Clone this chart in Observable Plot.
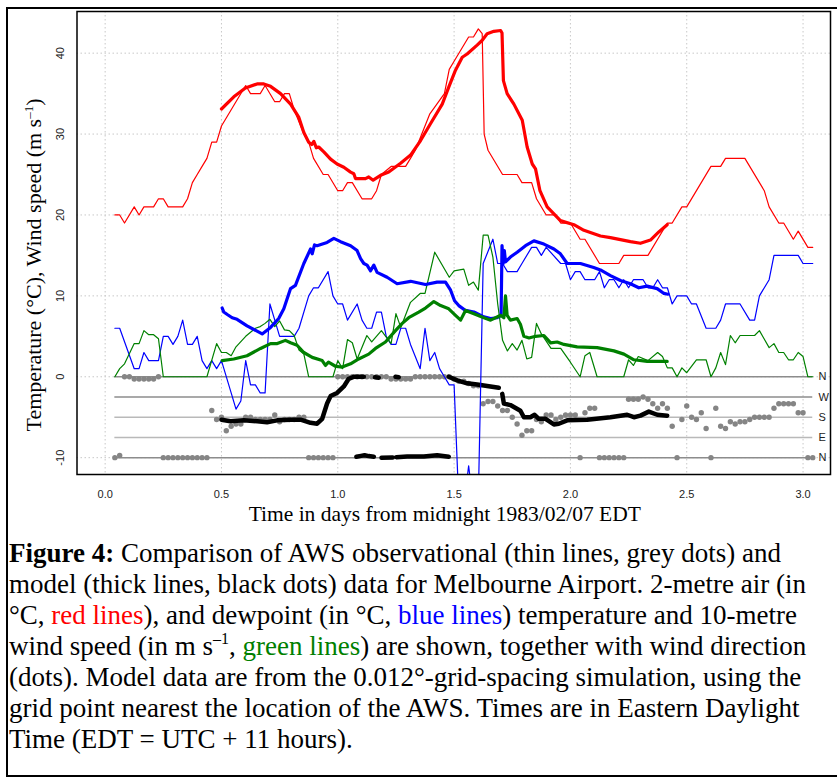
<!DOCTYPE html>
<html><head><meta charset="utf-8">
<script src="https://cdn.jsdelivr.net/npm/d3@7"></script>
<script src="https://cdn.jsdelivr.net/npm/@observablehq/plot@0.6"></script>
<style>
body{margin:0;background:#fff;}
#fig{position:relative;width:837px;height:780px;overflow:hidden;background:#fff;}
#border{position:absolute;left:6px;top:7px;width:840px;height:770px;border:2px solid #000;border-right:none;box-sizing:border-box;}
#chart{position:absolute;left:0;top:0;}
#caption{position:absolute;left:9px;top:538px;font-family:"Liberation Serif","Times New Roman",serif;font-size:27px;line-height:31px;white-space:nowrap;color:#000;}
#caption sup{font-size:16px;line-height:0;vertical-align:11px;}
</style></head>
<body>
<div id="fig">
<div id="border"></div>
<div id="chart"></div>
<div id="caption">
<b>Figure 4:</b> Comparison of AWS observational (thin lines, grey dots) and<br>
model (thick lines, black dots) data for Melbourne Airport. 2-metre air (in<br>
°C, <span style="color:#ff0000">red lines</span>), and dewpoint (in °C, <span style="color:#0000ff">blue lines</span>) temperature and 10-metre<br>
wind speed (in m s<sup>–1</sup>, <span style="color:#008000">green lines</span>) are shown, together with wind direction<br>
(dots). Model data are from the 0.012°-grid-spacing simulation, using the<br>
grid point nearest the location of the AWS. Times are in Eastern Daylight<br>
Time (EDT = UTC + 11 hours).
</div>
</div>
<script>
// ---------- axes ----------
const xTicks = [0, 0.5, 1, 1.5, 2, 2.5, 3];
const yTicks = [-10, 0, 10, 20, 30, 40];
const dirLabels = ["N", "W", "S", "E", "N"];
const dirDegrees = [360, 270, 180, 90, 0];

// ---------- AWS observations (thin lines): [days, value] ----------
const obsAirTemp = [[0.0417,20],[0.0625,20],[0.0833,19],[0.125,21],[0.1458,20],[0.1667,21],[0.2083,21],[0.2292,22],[0.25,22],[0.2708,21],[0.3333,21],[0.3542,22],[0.375,24],[0.3958,25],[0.4167,26],[0.4375,27],[0.4583,29],[0.4792,29],[0.5,31],[0.6042,36],[0.625,35],[0.6667,35],[0.6875,36],[0.7292,34],[0.75,34],[0.7708,35],[0.7917,35],[0.8125,33],[0.8542,30],[0.875,29],[0.8958,27],[0.9375,25],[0.9583,25],[1.0,23],[1.0208,23],[1.0417,24],[1.0625,24],[1.1042,22],[1.1458,22],[1.1667,23],[1.1875,25],[1.2292,26],[1.2917,26],[1.3125,27],[1.3333,28],[1.3958,32.5],[1.4583,35],[1.4792,38],[1.5,39],[1.5625,42],[1.5833,42],[1.6042,43],[1.6208,42.4],[1.6292,30],[1.6458,28],[1.7083,25],[1.7708,25],[1.7917,24],[1.8333,24],[1.8542,22],[1.8958,20],[1.9375,20],[1.9583,19],[2.0,19],[2.0417,17],[2.0625,17],[2.125,14],[2.2083,14],[2.2292,15],[2.3333,15],[2.4167,19],[2.4375,19],[2.4792,21],[2.5,21],[2.6042,26],[2.6458,26],[2.6667,27],[2.75,27],[2.8333,23],[2.8542,21],[2.8958,19],[2.9167,19],[2.9583,17],[2.9792,18],[3.0208,16],[3.0417,16]];

const obsDewpoint = [[0.0417,6],[0.0625,6],[0.125,1],[0.1458,1],[0.1667,3],[0.1875,2],[0.2292,2],[0.25,5],[0.2708,5],[0.2917,4],[0.3125,5],[0.3333,7],[0.3542,4],[0.375,4],[0.3958,5],[0.4167,2],[0.4375,1],[0.4583,2],[0.4792,1],[0.5,2],[0.5417,-2],[0.5625,-4],[0.5833,-3],[0.6042,2],[0.625,-1],[0.6458,-1],[0.6667,-2],[0.6875,-2],[0.7083,9],[0.7292,7],[0.75,5],[0.8125,5],[0.8333,6],[0.875,10],[0.8958,11],[0.9167,11],[0.9583,13],[0.9792,10],[1.0,9],[1.0208,9],[1.0417,7],[1.0833,9],[1.1042,7],[1.125,6],[1.1458,6],[1.1667,8],[1.1875,8],[1.2083,5],[1.2292,4],[1.25,4],[1.2708,6],[1.2917,6],[1.3125,4],[1.3542,1],[1.375,6],[1.3958,2],[1.4167,3],[1.4375,1],[1.4583,0],[1.4792,-1],[1.5,-1],[1.5208,-16],[1.5417,-16],[1.5625,-11],[1.5833,-16],[1.6042,-15],[1.625,14],[1.6667,17],[1.6875,14],[1.7083,14],[1.7292,13],[1.7708,13],[1.7917,14],[1.8333,16],[1.8542,16],[1.875,15],[1.8958,16],[1.9583,14],[1.9792,14],[2.0,12],[2.0208,13],[2.0417,13],[2.0625,12],[2.1042,12],[2.125,13],[2.1458,11],[2.1667,12],[2.1875,12],[2.2083,11],[2.2292,12],[2.25,11],[2.2708,12],[2.3125,12],[2.3333,11],[2.3542,11],[2.375,12],[2.3958,11],[2.4167,11],[2.4375,9],[2.4583,10],[2.5,10],[2.5208,9],[2.5417,9],[2.5833,6],[2.625,6],[2.6458,7],[2.6667,9],[2.7292,9],[2.7708,7],[2.7917,7],[2.8125,10],[2.8542,12],[2.875,15],[2.9792,15],[3.0,14],[3.0417,14]];

const obsWindSpeed = [[0.0417,0],[0.0625,1],[0.0833,1.6],[0.125,4.1],[0.1458,4.1],[0.1667,5.7],[0.1875,5.2],[0.2083,5.2],[0.2292,4.7],[0.25,0],[0.4375,0],[0.4792,4.1],[0.5,3.0],[0.5208,3.0],[0.5417,2.6],[0.5625,3.7],[0.6042,5.0],[0.625,5.5],[0.6458,6.0],[0.6667,6.2],[0.6875,6.6],[0.7083,7.1],[0.7292,6.2],[0.75,6.9],[0.7708,5.8],[0.7917,5.7],[0.8125,5.1],[0.8333,3.3],[0.8542,2.8],[0.875,0],[0.9792,0],[1.0,2.0],[1.0208,1.0],[1.0417,4.6],[1.0625,4.2],[1.0833,2.2],[1.125,5.1],[1.1458,4.3],[1.1875,5.7],[1.2292,4.1],[1.25,7.8],[1.2708,6.1],[1.3125,9.2],[1.3542,10.3],[1.375,10.3],[1.4167,15.4],[1.4792,12.3],[1.5,13.1],[1.5417,13.3],[1.5625,11.3],[1.5833,11.7],[1.6042,10.7],[1.625,17.5],[1.6458,17.5],[1.6667,14.8],[1.6875,9.0],[1.7083,4.5],[1.7292,3.2],[1.75,4.1],[1.7708,3.3],[1.7917,4.5],[1.8125,2.2],[1.8333,2.4],[1.8542,6.6],[1.875,5.3],[1.9167,3.5],[1.9583,3.5],[2.0,1.8],[2.0417,0],[2.0625,2.6],[2.0833,3.0],[2.1146,0],[2.2292,0],[2.25,2.1],[2.2708,1.4],[2.2917,2.5],[2.3333,2.0],[2.375,3.0],[2.3958,2.5],[2.4167,1.1],[2.4375,1.1],[2.4583,0],[2.4792,1.1],[2.5,0.5],[2.5417,2.1],[2.5833,2.1],[2.6042,0],[2.625,1.1],[2.6458,3.0],[2.6667,1.5],[2.6875,5.1],[2.7083,4.2],[2.7292,5.1],[2.7917,5.1],[2.8125,5.7],[2.8542,3.6],[2.875,4.1],[2.8958,3.0],[2.9167,3.0],[2.9375,2.1],[2.9583,2.1],[2.9792,3.0],[3.0,2.5],[3.0208,0],[3.0417,0]];

// half-hourly observed wind direction (degrees), first report at 01:00 (day 2/48)
const obsDirFirstSlot = 2;
const obsDirDeg = [0,10,360,360,350,350,350,350,350,360,
  0,0,0,0,0,0,0,0,0,0,
  210,170,180,120,140,150,150,180,180,170,170,170,170,190,160,170,170,170,180,180,
  0,0,0,0,0,0,
  360,360,360,360,360,360,360,360,360,360,360,350,350,350,350,350,360,360,360,360,360,360,360,360,
  350,340,340,330,320,320,
  240,250,250,230,210,210,180,150,100,120,120,170,160,190,190,170,180,190,190,190,0,200,220,220,
  0,0,0,0,0,0,
  260,260,260,270,260,240,220,240,220,140,0,170,230,180,170,200,130,0,220,140,130,160,150,160,160,170,180,180,180,180,220,240,240,240,240,200,200,0,0];

// ---------- model (thick lines, black dots) ----------
const modelAirTemp = [[0.5,33.1],[0.553,34.6],[0.603,35.7],[0.653,36.2],[0.682,36.2],[0.711,35.9],[0.754,35.0],[0.797,33.7],[0.832,32.1],[0.854,30.2],[0.875,29.0],[0.888,28.7],[0.897,29.1],[0.908,28.3],[0.918,28.4],[0.94,27.8],[0.969,26.9],[0.997,26.3],[1.026,25.9],[1.055,25.3],[1.069,25.1],[1.076,24.5],[1.119,24.5],[1.133,24.7],[1.152,24.3],[1.184,24.9],[1.219,25.3],[1.27,26.4],[1.313,27.4],[1.356,29.2],[1.399,31.3],[1.449,33.7],[1.477,35.8],[1.506,37.9],[1.535,39.5],[1.556,39.9],[1.599,41.0],[1.621,41.6],[1.642,42.4],[1.671,42.7],[1.7,42.8],[1.706,42.5],[1.712,36.6],[1.728,35.0],[1.757,33.7],[1.793,31.7],[1.814,28.4],[1.836,26.3],[1.85,25.7],[1.869,23.0],[1.9,21.0],[1.957,19.3],[2.015,18.8],[2.058,18.1],[2.129,17.4],[2.172,17.2],[2.258,16.7],[2.301,16.5],[2.344,16.9],[2.38,17.9],[2.416,18.8]];

const modelDewpoint = [[0.503,8.5],[0.51,8.0],[0.525,7.7],[0.546,7.3],[0.567,7.1],[0.61,6.3],[0.675,5.3],[0.711,6.1],[0.746,7.2],[0.768,8.4],[0.797,10.9],[0.818,11.3],[0.854,14.0],[0.883,15.8],[0.89,15.2],[0.9,16.3],[0.911,16.2],[0.954,16.6],[0.983,17.1],[1.012,16.7],[1.055,16.2],[1.083,15.6],[1.098,14.6],[1.112,14.0],[1.126,13.8],[1.141,13.1],[1.155,13.8],[1.169,12.9],[1.212,12.3],[1.255,11.5],[1.313,11.8],[1.377,11.4],[1.427,11.7],[1.463,11.7],[1.485,10.7],[1.502,9.4],[1.52,8.8],[1.549,8.2],[1.585,8.0],[1.628,7.4],[1.657,7.2],[1.685,7.3],[1.702,7.6],[1.706,16.2],[1.711,14.0],[1.716,15.6],[1.721,14.2],[1.742,14.8],[1.771,15.4],[1.807,16.2],[1.843,16.8],[1.886,16.4],[1.929,15.8],[1.957,15.2],[1.986,14.0],[2.043,14.0],[2.1,13.5],[2.129,13.2],[2.172,12.5],[2.215,11.9],[2.258,11.5],[2.294,11.0],[2.33,11.2],[2.373,10.9],[2.402,10.3],[2.419,10.2]];

const modelWindSpeed = [[0.503,2.0],[0.553,2.2],[0.61,2.6],[0.668,3.5],[0.711,4.1],[0.74,4.1],[0.775,4.5],[0.797,4.2],[0.825,3.9],[0.854,3.0],[0.89,2.4],[0.933,2.0],[0.947,1.4],[0.96,1.8],[0.99,1.3],[1.019,1.2],[1.055,1.6],[1.09,2.2],[1.133,2.8],[1.162,3.5],[1.205,4.3],[1.248,5.7],[1.277,6.6],[1.305,7.3],[1.348,8.0],[1.377,8.5],[1.413,9.3],[1.442,8.8],[1.477,8.4],[1.506,7.6],[1.528,7.0],[1.549,8.2],[1.585,7.8],[1.628,7.3],[1.657,7.0],[1.7,7.6],[1.714,7.3],[1.721,10.0],[1.728,7.6],[1.742,7.0],[1.771,7.2],[1.785,6.5],[1.8,5.0],[1.822,4.8],[1.85,5.0],[1.886,5.1],[1.915,4.2],[1.943,4.3],[1.972,4.0],[2.029,3.7],[2.115,3.6],[2.187,3.2],[2.23,2.8],[2.273,2.1],[2.33,1.9],[2.416,1.9]];

// model wind direction (degrees); null marks a gap / wrap through north
const modelDirDeg = [[0.5,169],[0.539,162],[0.596,166],[0.654,162],[0.696,158],[0.739,166],[0.797,169],[0.84,169],[0.883,155],[0.911,151],[0.933,173],[0.954,241],[0.969,274],[0.997,288],[1.026,317],[1.047,351],[1.069,360],[1.112,360],[1.113,null],
  [1.16,358],[1.176,356],[1.177,null],[1.248,360],[1.262,358],[1.263,null],
  [1.08,4],[1.1,8],[1.115,11],[1.133,7],[1.155,4],[1.156,null],[1.188,0],[1.236,1],[1.237,null],[1.252,2],[1.298,5],[1.37,5],[1.427,11],[1.477,4],[1.478,null],
  [1.477,360],[1.513,344],[1.556,331],[1.599,326],[1.642,319],[1.692,311],[1.698,null],[1.707,284],[1.714,241],[1.742,234],[1.785,209],[1.8,180],[1.828,180],[1.846,191],[1.864,173],[1.893,173],[1.929,148],[1.95,151],[1.986,166],[2.072,169],[2.172,180],[2.244,191],[2.273,180],[2.301,187],[2.337,205],[2.373,191],[2.416,187]];

// ---------- build ----------
const dirY = deg => (deg - 360) / 36;   // N(360)=0, W=-2.5, S=-5, E=-7.5, N(0)=-10
const obsDir = obsDirDeg.map((d, i) => ({t: (obsDirFirstSlot + i) / 48, y: dirY(d)}));
const dirLevels = dirLabels.map((l, i) => ({label: l, y: dirY(dirDegrees[i])}));
const obsStart = obsDir[0].t, obsEnd = obsDir[obsDir.length - 1].t;
const modelDir = modelDirDeg.map(([t, d]) => ({t, y: d == null ? NaN : dirY(d)}));

const serif = "Liberation Serif, Times New Roman, serif";
const thin = 1.2, thick = 3.2;
const line = (data, stroke, w) => Plot.line(data, {x: d => d[0], y: d => d[1], stroke, strokeWidth: w, clip: true, strokeLinejoin: "round"});

const plot = Plot.plot({
  width: 837, height: 530,
  marginLeft: 76.5, marginRight: 7, marginTop: 11, marginBottom: 56,
  x: {domain: [-0.121, 3.118], axis: null, label: null},
  y: {domain: [-12.08, 45.15], axis: null, label: null},
  style: {fontFamily: "Liberation Sans, Arial, sans-serif", fontSize: "11px", background: "transparent", overflow: "visible"},
  marks: [
    Plot.gridX(xTicks, {stroke: "#c8c8c8", strokeOpacity: 1, strokeDasharray: "1.5,2.5"}),
    Plot.gridY(yTicks, {stroke: "#c8c8c8", strokeOpacity: 1, strokeDasharray: "1.5,2.5"}),
    Plot.ruleY(dirLevels, {y: "y", x1: obsStart, x2: obsEnd, stroke: d => (d.label === "S" || d.label === "E") ? "#b9b9b9" : "#8c8c8c", strokeWidth: 1.5}),
    Plot.dot(obsDir, {x: "t", y: "y", r: 2.7, fill: "#858585", stroke: "none"}),
    Plot.line(modelDir, {x: "t", y: "y", stroke: "black", strokeWidth: 4.5}),
    line(obsAirTemp, "#ff0000", thin),
    line(obsDewpoint, "#0000ff", thin),
    line(obsWindSpeed, "#008000", thin),
    line(modelAirTemp, "#ff0000", thick),
    line(modelDewpoint, "#0000ff", thick),
    line(modelWindSpeed, "#008000", thick),
    Plot.text(dirLevels, {y: "y", text: "label", frameAnchor: "right", dx: -12, textAnchor: "start", fill: "#222", fontSize: 11}),
    Plot.axisX(xTicks, {tickSize: 0, tickPadding: 16, tickFormat: d3.format(".1f"), fill: "#222", fontSize: 11, label: null}),
    Plot.text(yTicks, {y: d => d, text: d => String(d), frameAnchor: "left", dx: -16.5, rotate: -90, textAnchor: "middle", lineAnchor: "middle", fill: "#222", fontSize: 11}),
    Plot.frame({stroke: "black", strokeWidth: 1.5}),
    Plot.text(["Time in days from midnight 1983/02/07 EDT"], {frameAnchor: "bottom", dx: -9, dy: 40, lineAnchor: "middle", fontFamily: serif, fontSize: 21.5, fill: "black"}),
    Plot.text(["Temperature (°C), Wind speed (m s-1)"], {frameAnchor: "left", dx: -43, dy: 22, rotate: -90, textAnchor: "middle", lineAnchor: "middle", fontFamily: serif, fontSize: 22, fill: "black"})
  ]
});
document.getElementById("chart").appendChild(plot);

// superscript for the units in the y label
for (const t of plot.querySelectorAll("text")) {
  if (t.textContent === "Temperature (°C), Wind speed (m s-1)") {
    t.textContent = "";
    const ns = "http://www.w3.org/2000/svg";
    const a = document.createElementNS(ns, "tspan"); a.textContent = "Temperature (°C), Wind speed (m s"; t.appendChild(a);
    const b = document.createElementNS(ns, "tspan"); b.textContent = "–1"; b.setAttribute("font-size", "13"); b.setAttribute("dy", "-8"); t.appendChild(b);
    const c = document.createElementNS(ns, "tspan"); c.textContent = ")"; c.setAttribute("dy", "8"); t.appendChild(c);
  }
}
</script>
</body></html>
